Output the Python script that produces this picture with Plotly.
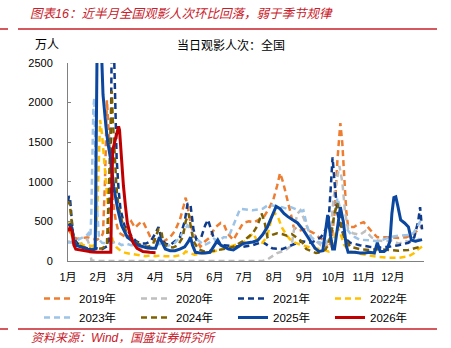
import plotly.graph_objects as go

# ---- data (x = day of year, y = 万人) ----
month_labels = ["1月", "2月", "3月", "4月", "5月", "6月", "7月", "8月", "9月", "10月", "11月", "12月"]
month_days = [0, 31, 59, 90, 120, 151, 181, 212, 243, 273, 304, 334]

d2019 = [0, 3, 6, 10, 15, 20, 25, 30, 34, 36, 38, 39, 40, 42, 44, 46, 49, 52, 57, 61, 65, 69, 73, 77, 81, 85, 90, 95, 100, 105, 110, 115, 119, 121, 124, 127, 131, 136, 141, 146, 151, 157, 160, 164, 170, 175, 180, 186, 191, 196, 201, 206, 211, 215, 218, 221, 224, 229, 232, 237, 243, 248, 253, 258, 263, 267, 271, 274, 277, 280, 282, 284, 286, 288, 294, 299, 304, 311, 318, 325, 332, 340, 348, 356, 363]
v2019 = [400, 350, 300, 280, 290, 300, 280, 270, 300, 350, 1000, 1600, 2030, 1600, 1100, 770, 520, 360, 320, 430, 500, 420, 470, 500, 400, 290, 250, 230, 260, 300, 380, 520, 700, 800, 620, 420, 300, 180, 250, 300, 420, 480, 470, 350, 265, 380, 480, 500, 490, 520, 550, 650, 770, 950, 1110, 1000, 860, 600, 430, 380, 400, 380, 350, 300, 265, 160, 250, 600, 1275, 1740, 1490, 1060, 640, 430, 430, 470, 490, 390, 300, 300, 300, 290, 300, 350, 430]

d2020 = [0, 5, 10, 15, 20, 22, 24, 30, 60, 100, 150, 200, 205, 210, 215, 220, 225, 230, 233, 236, 239, 242, 245, 250, 255, 260, 265, 270, 273, 276, 279, 282, 285, 288, 293, 300, 306, 312, 318, 325, 332, 340, 348, 356, 363]
v2020 = [250, 220, 200, 230, 270, 200, 10, 0, 0, 0, 0, 0, 20, 60, 100, 120, 150, 200, 450, 600, 640, 550, 450, 300, 250, 200, 200, 350, 800, 1000, 1200, 1000, 600, 400, 350, 330, 380, 300, 260, 250, 260, 220, 250, 230, 300]

d2021 = [0, 1, 2, 3, 5, 8, 10, 15, 20, 25, 30, 35, 40, 42, 44, 45, 47, 48, 49, 50, 52, 54, 58, 62, 66, 70, 75, 80, 85, 90, 93, 96, 100, 105, 110, 115, 120, 123, 126, 129, 132, 137, 141, 144, 147, 150, 155, 160, 170, 180, 190, 200, 205, 210, 220, 230, 240, 250, 260, 265, 268, 270, 272, 274, 277, 280, 284, 290, 300, 310, 320, 330, 340, 350, 356, 360, 362, 364]
v2021 = [750, 820, 800, 650, 350, 250, 220, 180, 160, 150, 160, 150, 180, 200, 1500, 2800, 2800, 2300, 1800, 1300, 900, 650, 450, 380, 300, 250, 220, 220, 250, 350, 430, 280, 220, 200, 250, 300, 500, 730, 700, 400, 270, 300, 450, 520, 400, 280, 220, 200, 190, 180, 200, 240, 200, 160, 150, 200, 250, 230, 300, 400, 520, 900, 1310, 1000, 600, 450, 300, 230, 200, 180, 170, 180, 200, 230, 300, 500, 680, 400]

d2022 = [0, 2, 4, 7, 12, 16, 20, 25, 28, 30, 31, 32, 33, 35, 37, 39, 41, 43, 46, 50, 55, 60, 65, 70, 75, 80, 85, 90, 95, 100, 110, 118, 121, 125, 130, 135, 140, 150, 160, 170, 180, 185, 190, 195, 200, 205, 210, 213, 216, 220, 225, 230, 240, 250, 260, 268, 272, 274, 277, 280, 284, 290, 300, 310, 320, 330, 340, 350, 356, 360, 364]
v2022 = [500, 480, 300, 200, 220, 200, 200, 190, 200, 600, 1000, 1500, 1780, 1600, 1300, 900, 600, 400, 260, 170, 120, 100, 90, 80, 70, 60, 70, 60, 70, 60, 60, 80, 120, 100, 80, 90, 100, 120, 160, 200, 230, 280, 350, 250, 230, 320, 580, 600, 550, 420, 320, 250, 200, 170, 150, 120, 200, 300, 430, 350, 200, 120, 90, 70, 50, 40, 40, 60, 100, 150, 180]

d2023 = [0, 4, 8, 12, 16, 19, 21, 23, 24, 25, 26, 27, 28, 29, 30, 32, 35, 40, 45, 50, 55, 60, 65, 70, 75, 80, 85, 90, 95, 100, 105, 110, 115, 120, 123, 126, 130, 135, 140, 145, 150, 155, 160, 165, 170, 177, 183, 190, 195, 200, 205, 210, 215, 220, 225, 229, 235, 240, 242, 246, 250, 255, 260, 265, 270, 274, 277, 280, 284, 290, 295, 300, 310, 320, 330, 340, 350, 355, 360, 364]
v2023 = [230, 240, 250, 280, 300, 320, 350, 300, 600, 1300, 1900, 2060, 1300, 900, 640, 270, 230, 220, 230, 240, 200, 220, 200, 200, 170, 150, 170, 200, 220, 180, 200, 230, 300, 400, 450, 400, 300, 250, 200, 230, 280, 250, 300, 300, 450, 660, 650, 640, 650, 660, 700, 700, 690, 680, 660, 680, 650, 630, 640, 430, 300, 250, 230, 220, 300, 600, 800, 650, 450, 350, 300, 270, 260, 250, 300, 320, 330, 350, 450, 550]

d2024 = [0, 1, 2, 4, 6, 10, 15, 20, 25, 30, 35, 38, 40, 42, 44, 45, 46, 48, 50, 52, 57, 62, 67, 72, 77, 82, 87, 90, 93, 96, 98, 103, 108, 113, 118, 121, 124, 126, 129, 134, 140, 150, 160, 170, 180, 185, 190, 195, 199, 202, 205, 210, 215, 220, 225, 230, 235, 240, 245, 250, 255, 260, 265, 270, 274, 277, 280, 284, 290, 300, 310, 320, 330, 340, 350, 356, 362]
v2024 = [720, 750, 700, 450, 250, 200, 180, 160, 150, 150, 160, 180, 200, 900, 1800, 2150, 1800, 1300, 900, 680, 430, 320, 265, 220, 190, 180, 200, 300, 400, 380, 220, 180, 170, 200, 300, 500, 600, 450, 250, 150, 120, 130, 150, 180, 250, 300, 350, 450, 600, 500, 300, 330, 350, 340, 320, 340, 300, 250, 150, 120, 100, 110, 150, 300, 600, 730, 500, 300, 180, 150, 140, 150, 140, 130, 140, 160, 180]

d2025 = [0, 2, 4, 6, 8, 12, 16, 20, 25, 28, 29, 30, 34, 36, 39, 41, 44, 47, 51, 55, 61, 66, 72, 80, 85, 90, 94, 96, 100, 105, 110, 115, 120, 124, 126, 128, 131, 136, 141, 146, 151, 154, 157, 160, 165, 170, 175, 180, 185, 190, 195, 200, 205, 210, 214, 218, 222, 226, 231, 236, 242, 249, 254, 258, 262, 265, 267, 269, 272, 274, 277, 280, 283, 286, 288, 295, 300, 305, 310, 315, 318, 321, 325, 328, 331, 333, 335, 337, 339, 342, 346, 350, 353, 357, 361, 364]
v2025 = [450, 460, 420, 250, 200, 180, 160, 150, 140, 150, 1500, 2800, 2800, 2100, 1700, 1490, 1275, 935, 660, 450, 300, 250, 200, 170, 160, 160, 300, 250, 150, 130, 130, 150, 180, 250, 300, 200, 110, 100, 100, 110, 200, 265, 200, 180, 150, 140, 180, 220, 230, 240, 260, 330, 430, 580, 690, 660, 600, 560, 520, 480, 390, 265, 160, 120, 130, 400, 580, 400, 150, 150, 400, 680, 500, 200, 110, 110, 100, 100, 110, 100, 230, 120, 120, 150, 250, 600, 800, 810, 700, 520, 480, 430, 265, 250, 260, 270]

d2026 = [0, 2, 4, 6, 8, 12, 16, 20, 25, 30, 35, 40, 44, 45, 46, 48, 50, 52, 53, 55, 57, 59, 61, 64, 67, 71, 77, 84, 90]
v2026 = [380, 420, 380, 200, 150, 140, 130, 120, 115, 110, 110, 105, 110, 900, 1400, 1500, 1600, 1700, 1650, 1275, 950, 700, 480, 330, 230, 160, 120, 110, 105]

series = [
    ("2019年", d2019, v2019, "#ED7D31", "dash", 2.5),
    ("2020年", d2020, v2020, "#BFBFBF", "dash", 2.5),
    ("2021年", d2021, v2021, "#0E3B8C", "dash", 2.5),
    ("2022年", d2022, v2022, "#FFC000", "dash", 2.5),
    ("2023年", d2023, v2023, "#9DC3E6", "dash", 2.5),
    ("2024年", d2024, v2024, "#7F6000", "dash", 2.5),
    ("2025年", d2025, v2025, "#0B479E", "solid", 3),
    ("2026年", d2026, v2026, "#C00000", "solid", 3),
]

FONT = "Liberation Sans, Arial, Noto Sans CJK SC, sans-serif"
RED = "#C8202A"
W, H = 451, 348
L, R, T, B = 68, 27, 63, 87
pw, ph = W - L - R, H - T - B

fig = go.Figure()
for name, xs, ys, color, dash, w in series:
    fig.add_trace(go.Scatter(
        x=xs, y=ys, name=name, mode="lines",
        line=dict(color=color, width=w, dash=("6px,4px" if dash == "dash" else "solid")),
    ))


def px_x(p):
    return (p - L) / pw


def px_y(p):
    return (H - B - p) / ph


fig.update_layout(
    width=W, height=H,
    margin=dict(l=L, r=R, t=T, b=B, pad=0, autoexpand=False),
    paper_bgcolor="white", plot_bgcolor="white",
    font=dict(family=FONT, size=11, color="#000000"),
    showlegend=True,
    legend=dict(
        orientation="h", xref="paper", yref="paper",
        x=px_x(39), y=px_y(284), xanchor="left", yanchor="top",
        entrywidth=52, entrywidthmode="pixels",
        font=dict(size=11.5, family=FONT), tracegroupgap=0,
        bgcolor="rgba(0,0,0,0)",
    ),
    xaxis=dict(
        range=[0, 366], tickvals=month_days, ticktext=month_labels,
        showgrid=False, zeroline=False, showline=True, linecolor="#808080", linewidth=1,
        ticks="", ticklabelstandoff=6, tickfont=dict(size=11),
    ),
    yaxis=dict(
        range=[0, 2500], tickvals=[0, 500, 1000, 1500, 2000, 2500],
        showgrid=False, zeroline=False, showline=True, linecolor="#808080", linewidth=1,
        ticks="inside", ticklen=3, tickcolor="#808080", ticklabelstandoff=12, tickfont=dict(size=11),
    ),
)

annotations = [
    dict(text="<i>图表16：近半月全国观影人次环比回落，弱于季节规律</i>", x=px_x(28), y=px_y(14),
         xanchor="left", yanchor="middle", font=dict(size=12.5, color=RED, family=FONT)),
    dict(text="万人", x=px_x(33), y=px_y(45), xanchor="left", yanchor="middle",
         font=dict(size=12, color="#000000", family=FONT)),
    dict(text="当日观影人次：全国", x=px_x(231), y=px_y(45), xanchor="center", yanchor="middle",
         font=dict(size=12, color="#000000", family=FONT)),
    dict(text="<i>资料来源：Wind，国盛证券研究所</i>", x=px_x(29), y=px_y(338),
         xanchor="left", yanchor="middle", font=dict(size=12, color=RED, family=FONT)),
]
for a in annotations:
    a.update(xref="paper", yref="paper", showarrow=False)
fig.update_layout(annotations=annotations)

shapes = []
for yy in (29, 329):
    for x0, x1 in ((0, 8), (18, 437)):
        shapes.append(dict(type="line", xref="paper", yref="paper",
                           x0=px_x(x0), x1=px_x(x1), y0=px_y(yy), y1=px_y(yy),
                           line=dict(color=RED, width=1.5)))
fig.update_layout(shapes=shapes)

fig.write_html("out.html")
